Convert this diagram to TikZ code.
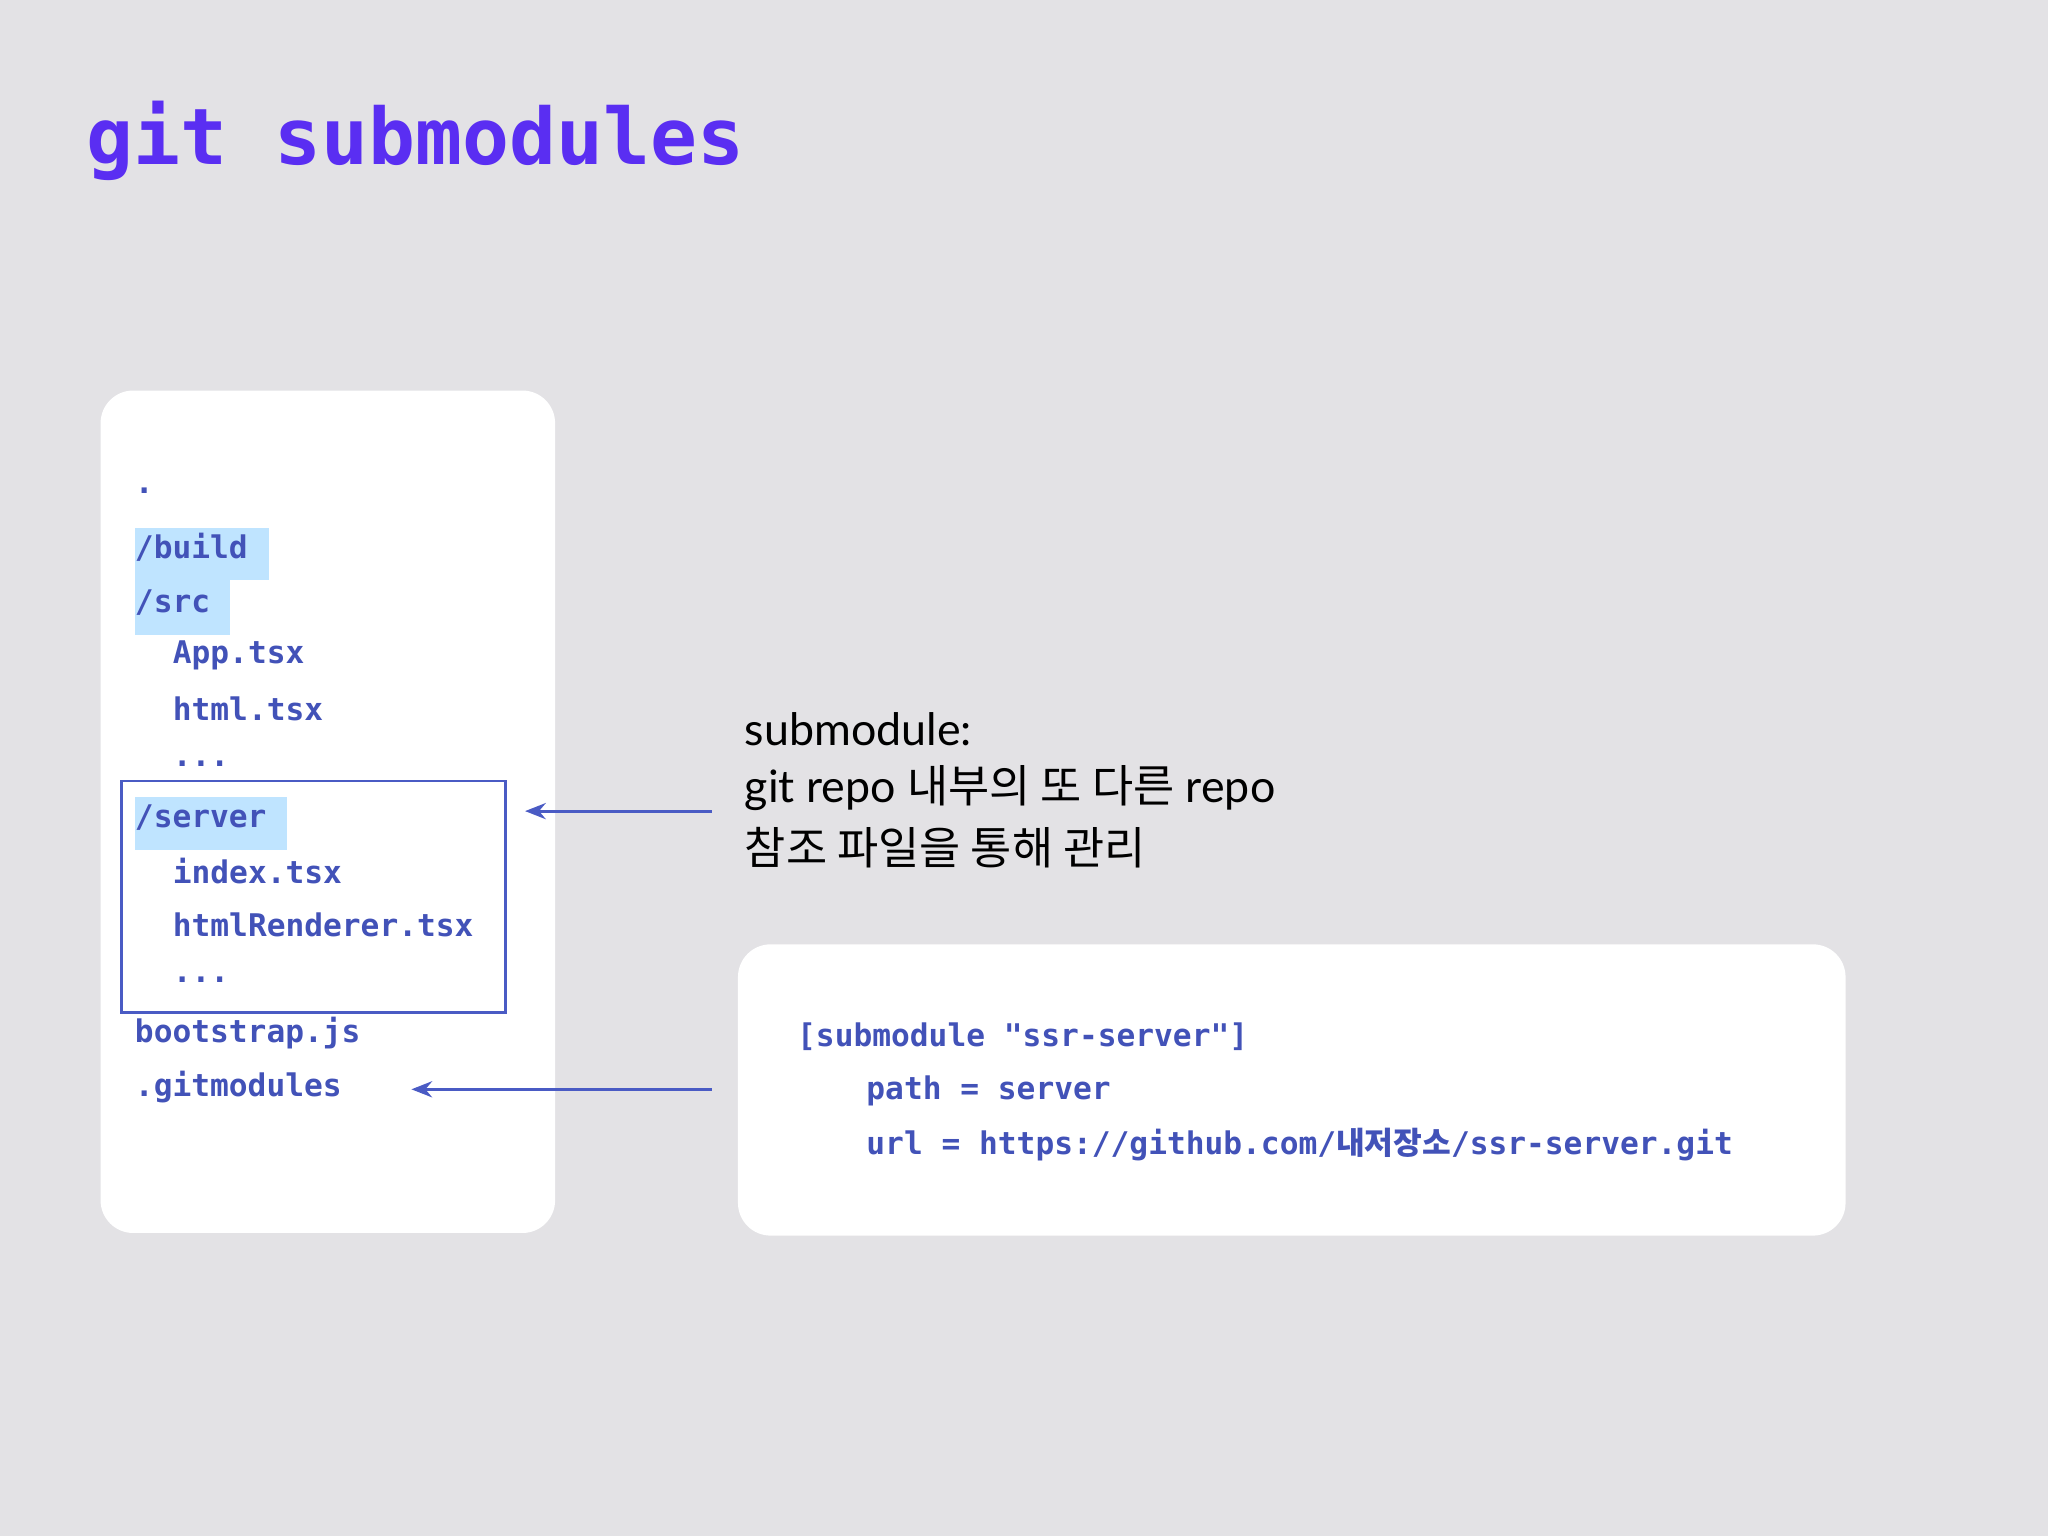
\documentclass[tikz,border=0pt]{standalone}
\usetikzlibrary{arrows.meta}
\usepackage{fontspec}
\setmainfont{Lato}
\setmonofont{DejaVu Sans Mono}
\newfontfamily\krsans{Noto Sans CJK KR}
\newfontfamily\krmono{Noto Sans CJK KR}
\definecolor{bg}{HTML}{E3E2E5}
\definecolor{ttl}{HTML}{5A2EF2}
\definecolor{code}{HTML}{4252B8}
\definecolor{hl}{HTML}{BFE4FF}
\definecolor{arr}{HTML}{4A5BC4}
\begin{document}
\begin{tikzpicture}[x=0.02cm,y=-0.02cm,
  card/.style={fill=white,rounded corners=0.5cm,draw=none},
  tree/.style={anchor=west,inner sep=0,font=\ttfamily\bfseries\fontsize{13.6}{15}\selectfont,text=code},
  lbl/.style={anchor=west,inner sep=0,font=\fontsize{19.5}{22}\selectfont,text=black},
  conn/.style={draw=arr,line width=1.4pt,-{Stealth[length=9pt,width=7pt]}}]
\fill[bg] (0,0) rectangle (1568,1176);
\node[anchor=west,inner sep=0,font=\ttfamily\bfseries\fontsize{34}{40}\selectfont,text=ttl] (title) at (66,108) {git submodules};
\draw[card] (77,299) rectangle (425,944);
\draw[card] (565,723) rectangle (1413,946);
\fill[hl] (103,404) rectangle (206,444);
\fill[hl] (103,444) rectangle (176,486);
\fill[hl] (103,610) rectangle (220,651);
\draw[draw=arr,line width=1.2pt] (93,598) rectangle (387,775);
\node[tree] (dot) at (103,376) {.};
\node[tree] (build) at (103,419) {/build};
\node[tree] (src) at (103,461) {/src};
\node[tree] (app) at (132,502) {App.tsx};
\node[tree] (html) at (132,543) {html.tsx};
\node[tree] (d1) at (132,585) {...};
\node[tree] (server) at (103,626) {/server};
\node[tree] (index) at (132,667) {index.tsx};
\node[tree] (hr) at (132,708) {htmlRenderer.tsx};
\node[tree] (d2) at (132,750) {...};
\node[tree] (boot) at (103,791) {bootstrap.js};
\node[tree] (gm) at (103,832) {.gitmodules};
\node[lbl] (l1) at (570,558) {submodule:};
\node[lbl] (l2) at (570,603) {git repo {\krsans 내부의 또 다른} repo};
\node[lbl] (l3) at (570,649) {\krsans 참조 파일을 통해 관리};
\node[tree] (c1) at (610,794) {[submodule "ssr-server"]};
\node[tree] (c2) at (663,835) {path = server};
\node[tree] (c3) at (663,876) {url = https://github.com/{\krmono\bfseries 내저장소}/ssr-server.git};
\coordinate (a1) at (545,621);
\coordinate (a1e) at (402,621);
\coordinate (a2) at (545,834);
\coordinate (a2e) at (315,834);
\draw[conn] (a1) -- (a1e);
\draw[conn] (a2) -- (a2e);
\end{tikzpicture}
\end{document}
